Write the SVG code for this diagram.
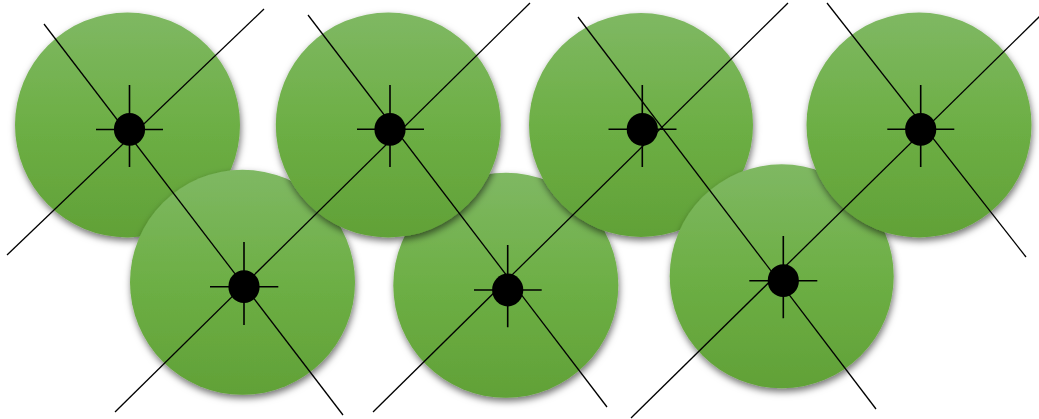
<svg xmlns="http://www.w3.org/2000/svg" width="1039" height="419" viewBox="0 0 1039 419">
  <defs>
    <linearGradient id="g" x1="0" y1="0" x2="0" y2="1">
      <stop offset="0" stop-color="#7fb863"/>
      <stop offset="0.5" stop-color="#6daf45"/>
      <stop offset="1" stop-color="#61a137"/>
    </linearGradient>
    <filter id="sh" x="-20%" y="-20%" width="140%" height="140%">
      <feDropShadow dx="1" dy="3.5" stdDeviation="3.5" flood-color="#000" flood-opacity="0.55"/>
    </filter>
  </defs>
  <style>
    .disc { fill: url(#g); filter: url(#sh); }
    .dot { fill: #000; }
    .cross { stroke: #000; stroke-width: 1.6; fill: none; }
    .conn { stroke: #000; stroke-width: 1.3; fill: none; }
  </style>
  <rect width="1039" height="419" fill="#fff"/>
  <g id="node1"><circle class="disc" cx="127.5" cy="125" r="112.5"/></g>
  <g id="node5"><circle class="disc" cx="242.5" cy="282.3" r="112.5"/></g>
  <g id="node6"><circle class="disc" cx="505.8" cy="285.3" r="112.5"/></g>
  <g id="node2"><circle class="disc" cx="388.3" cy="125" r="112.5"/></g>
  <g id="node3"><circle class="disc" cx="641" cy="125" r="112"/></g>
  <g id="node7"><circle class="disc" cx="781.7" cy="276.3" r="112"/></g>
  <g id="node4"><circle class="disc" cx="919" cy="125" r="112.5"/></g>
  <g id="connectors">
    <line class="conn" x1="44" y1="24" x2="343" y2="415"/>
    <line class="conn" x1="264" y1="9" x2="7" y2="255"/>
    <line class="conn" x1="308" y1="15" x2="607" y2="407"/>
    <line class="conn" x1="530" y1="3" x2="115" y2="412"/>
    <line class="conn" x1="578" y1="17" x2="876" y2="409"/>
    <line class="conn" x1="788" y1="3" x2="373" y2="412"/>
    <line class="conn" x1="827" y1="3" x2="1026" y2="257"/>
    <line class="conn" x1="1040" y1="16" x2="631" y2="418"/>
  </g>
  <g id="pin1"><path class="cross" d="M129.5 85V167M96 129.5H163"/><ellipse class="dot" cx="129.5" cy="129.3" rx="15.6" ry="16.4"/></g>
  <g id="pin2"><path class="cross" d="M390 85V167M357 129.3H424"/><ellipse class="dot" cx="390" cy="129.3" rx="15.6" ry="16.4"/></g>
  <g id="pin3"><path class="cross" d="M642.3 85V167M608.5 129.3H676.5"/><ellipse class="dot" cx="642.3" cy="129.3" rx="15.6" ry="16.4"/></g>
  <g id="pin4"><path class="cross" d="M920.7 85V167M887.3 129.3H954.3"/><ellipse class="dot" cx="920.7" cy="129.3" rx="15.6" ry="16.4"/></g>
  <g id="pin5"><path class="cross" d="M244 242V325M210 286.7H278.3"/><ellipse class="dot" cx="244" cy="286.7" rx="15.6" ry="16.4"/></g>
  <g id="pin6"><path class="cross" d="M507.7 245V327.3M474 290H541.7"/><ellipse class="dot" cx="507.7" cy="290" rx="15.6" ry="16.4"/></g>
  <g id="pin7"><path class="cross" d="M783.3 236V318.3M749.3 280.7H817.3"/><ellipse class="dot" cx="783.3" cy="280.7" rx="15.6" ry="16.4"/></g>
</svg>
